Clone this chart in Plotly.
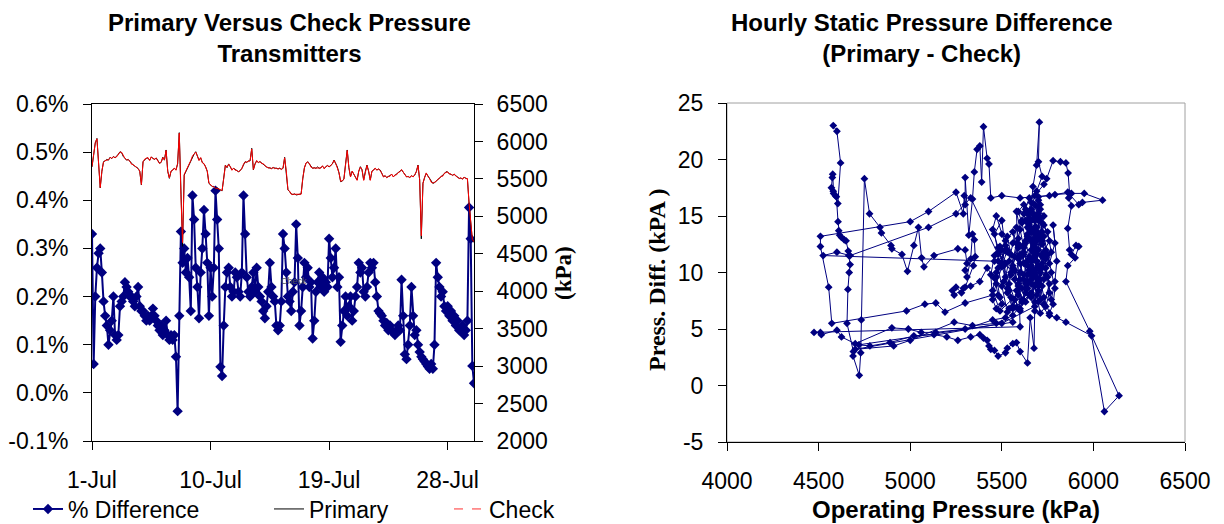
import plotly.graph_objects as go
import pandas as pd

# ---------------- Left chart: 3-hourly samples from 1-Jul 00:00 ----------------
pct_difference = [
    0.33, 0.06, 0.20, 0.26, 0.29, 0.30, 0.25, 0.19,
    0.16, 0.14, 0.10, 0.13, 0.15, 0.20, 0.12, 0.11,
    0.12, 0.18, 0.19, 0.20, 0.23, 0.22, 0.21, 0.20,
    0.20, 0.19, 0.18, 0.20, 0.22, 0.18, 0.17, 0.17,
    0.16, 0.15, 0.16, 0.15, 0.16, 0.175, 0.16, 0.15,
    0.14, 0.13, 0.14, 0.12, 0.13, 0.15, 0.12, 0.11,
    0.12, 0.11, 0.12, 0.075, -0.038, 0.16, 0.335, 0.27,
    0.30, 0.25, 0.28, 0.24, 0.17, 0.41, 0.36, 0.26,
    0.22, 0.155, 0.25, 0.30, 0.38, 0.33, 0.27, 0.16,
    0.26, 0.20, 0.26, 0.42, 0.36, 0.30, 0.054, 0.035,
    0.14, 0.22, 0.25, 0.26, 0.22, 0.20, 0.21, 0.25,
    0.24, 0.21, 0.20, 0.25, 0.41, 0.33, 0.24, 0.21,
    0.20, 0.22, 0.25, 0.21, 0.26, 0.22, 0.20, 0.19,
    0.17, 0.155, 0.18, 0.21, 0.27, 0.22, 0.20, 0.19,
    0.14, 0.13, 0.14, 0.19, 0.33, 0.30, 0.25, 0.20,
    0.19, 0.17, 0.21, 0.23, 0.35, 0.28, 0.14, 0.17,
    0.22, 0.27, 0.24, 0.26, 0.22, 0.23, 0.113, 0.15,
    0.21, 0.23, 0.25, 0.22, 0.24, 0.21, 0.23, 0.22,
    0.32, 0.28, 0.24, 0.26, 0.30, 0.22, 0.24, 0.106,
    0.14, 0.17, 0.20, 0.16, 0.18, 0.20, 0.15, 0.17,
    0.20, 0.22, 0.27, 0.25, 0.26, 0.21, 0.20, 0.22,
    0.25, 0.27, 0.26, 0.27, 0.23, 0.20, 0.17, 0.165,
    0.16, 0.15, 0.14, 0.145, 0.13, 0.14, 0.13, 0.125,
    0.12, 0.13, 0.14, 0.13, 0.235, 0.16, 0.08, 0.07,
    0.10, 0.14, 0.22, 0.16, 0.12, 0.13, 0.10, 0.085,
    0.075, 0.07, 0.065, 0.06, 0.055, 0.05, 0.06, 0.05,
    0.10, 0.27, 0.24, 0.22, 0.20, 0.21, 0.18, 0.17,
    0.18, 0.16, 0.17, 0.15, 0.16, 0.14, 0.15, 0.13,
    0.13, 0.14, 0.12, 0.13, 0.15, 0.385, 0.32, 0.056,
    0.02,
]

primary_kpa = [
    5660, 5850, 5980, 6040, 5700, 5380, 5600, 5730,
    5740, 5760, 5750, 5790, 5770, 5800, 5780, 5800,
    5830, 5863, 5850, 5800, 5780, 5750, 5760, 5730,
    5700, 5685, 5670, 5650, 5640, 5600, 5418, 5730,
    5760, 5775, 5780, 5750, 5790, 5775, 5760, 5780,
    5740, 5710, 5720, 5790, 5750, 5886, 5600, 5507,
    5600, 5620, 5640, 5620, 5700, 6117, 5263, 4600,
    5550, 5600, 5650, 5685, 5750, 5800, 5830, 5863,
    5800, 5750, 5780, 5720, 5700, 5663, 5600, 5440,
    5420, 5396, 5400, 5370, 5380, 5360, 5352, 5340,
    5500, 5685, 5650, 5700, 5660, 5620, 5640, 5620,
    5610, 5596, 5610, 5640, 5690, 5730, 5720, 5740,
    5740, 5908, 5620, 5700, 5740, 5720, 5730, 5710,
    5700, 5680, 5660, 5650, 5645, 5640, 5650, 5640,
    5640, 5635, 5640, 5630, 5640, 5788, 5600, 5352,
    5330, 5300, 5290, 5300, 5285, 5290, 5285, 5300,
    5500, 5650, 5708, 5730, 5700, 5660, 5640, 5650,
    5640, 5660, 5640, 5650, 5670, 5640, 5660, 5680,
    5660, 5680, 5700, 5752, 5700, 5660, 5580, 5463,
    5470, 5500, 5700, 5886, 5650, 5530, 5600, 5560,
    5520, 5485, 5600, 5663, 5620, 5485, 5600, 5685,
    5600, 5485, 5600, 5620, 5640, 5620, 5630, 5619,
    5570, 5530, 5540, 5520, 5530, 5540, 5560, 5530,
    5550, 5560, 5580, 5600, 5620, 5590, 5550, 5530,
    5530, 5520, 5540, 5530, 5550, 5600, 5685, 5485,
    4700, 5440, 5520, 5575, 5540, 5500, 5460, 5440,
    5450, 5470, 5490, 5510, 5530, 5540, 5570, 5596,
    5590, 5570, 5560, 5550, 5560, 5540, 5520, 5507,
    5510, 5500, 5520, 5507, 5500, 5174, 4900, 4684,
    4650,
]

check_kpa = [
    5665, 5845, 5985, 6035, 5705, 5385, 5605, 5725,
    5745, 5755, 5755, 5785, 5775, 5795, 5785, 5795,
    5835, 5858, 5855, 5805, 5775, 5755, 5755, 5735,
    5695, 5690, 5665, 5655, 5635, 5605, 5425, 5725,
    5765, 5770, 5785, 5745, 5795, 5770, 5765, 5775,
    5745, 5705, 5725, 5785, 5755, 5880, 5605, 5512,
    5605, 5615, 5645, 5615, 5705, 6110, 5290, 4650,
    5560, 5605, 5645, 5690, 5745, 5805, 5825, 5858,
    5805, 5745, 5785, 5715, 5705, 5658, 5605, 5445,
    5415, 5401, 5395, 5375, 5375, 5365, 5347, 5345,
    5505, 5680, 5655, 5695, 5665, 5615, 5645, 5615,
    5615, 5591, 5615, 5635, 5695, 5725, 5725, 5735,
    5745, 5900, 5625, 5695, 5745, 5715, 5735, 5705,
    5705, 5675, 5665, 5645, 5650, 5635, 5655, 5635,
    5645, 5630, 5645, 5625, 5645, 5782, 5605, 5357,
    5335, 5295, 5295, 5295, 5290, 5285, 5290, 5295,
    5505, 5645, 5713, 5725, 5705, 5655, 5645, 5645,
    5645, 5655, 5645, 5645, 5675, 5635, 5665, 5675,
    5665, 5675, 5705, 5747, 5705, 5655, 5585, 5468,
    5475, 5495, 5705, 5880, 5655, 5525, 5605, 5555,
    5525, 5480, 5605, 5658, 5625, 5480, 5605, 5680,
    5605, 5480, 5605, 5615, 5645, 5615, 5635, 5614,
    5575, 5525, 5545, 5515, 5535, 5535, 5565, 5525,
    5555, 5555, 5585, 5595, 5625, 5585, 5555, 5525,
    5535, 5515, 5545, 5525, 5555, 5595, 5680, 5490,
    4740, 5445, 5515, 5580, 5535, 5505, 5455, 5445,
    5455, 5465, 5495, 5505, 5535, 5535, 5575, 5591,
    5595, 5565, 5565, 5545, 5565, 5535, 5525, 5502,
    5515, 5495, 5525, 5502, 5505, 5180, 4910, 4690,
    4660,
]

sample_times = pd.date_range("2003-07-01 00:00", periods=len(pct_difference), freq="3h")

date_tick_values = ["2003-07-01", "2003-07-10", "2003-07-19", "2003-07-28"]
date_tick_labels = ["1-Jul", "10-Jul", "19-Jul", "28-Jul"]
pct_tick_values = [-0.1, 0.0, 0.1, 0.2, 0.3, 0.4, 0.5, 0.6]
pct_tick_labels = ["-0.1%", "0.0%", "0.1%", "0.2%", "0.3%", "0.4%", "0.5%", "0.6%"]
kpa_tick_values = [2000, 2500, 3000, 3500, 4000, 4500, 5000, 5500, 6000, 6500]
kpa_tick_labels = ["2000", "2500", "3000", "3500", "4000", "4500", "5000", "5500", "6000", "6500"]

# ---------------- Right chart: hourly operating pressure vs difference ----------------
operating_pressure = [
    4580, 4600, 4620, 4605, 4592, 4580, 4570, 4575, 4577, 4582, 4597, 4606, 4610, 4615,
    4625, 4640, 4650, 4662, 4665, 4672, 4667, 4660, 4655, 4690, 4688, 4722, 4730, 4733,
    4750, 4778, 4835, 4843, 4895, 4900, 4955, 4985, 5020, 5045, 5062, 5075, 5130, 5260,
    5300, 5310, 5300, 5310, 5330, 5340, 5350, 5355, 5345, 5300, 5280, 5250, 5230, 5240,
    5290, 5330, 5380, 5420,
    5460, 5480, 5500, 5470, 5450, 5440, 5460, 5490, 5520, 5510, 5540, 5560, 5530, 5500,
    5480, 5500, 5530, 5550, 5570, 5590, 5610, 5580, 5550, 5520, 5540, 5560, 5580, 5600,
    5620, 5640, 5660, 5680,
    5650, 5680, 5700, 5660, 5720, 5690, 5650, 5610, 5640, 5700, 5730, 5760, 5720, 5680,
    5640, 5600, 5560, 5590, 5630, 5670, 5710, 5690, 5720, 5700, 5705, 5690, 5670, 5660,
    5640,
    5680, 5730, 5745, 5780, 5820, 5850, 5862, 5870, 5865, 5880, 5860, 5870, 5880, 5905,
    5920, 5900, 5860, 5850, 5980, 6140, 6060, 5990, 5850, 5800, 5760,
    5700, 5720, 5700, 5680, 5660, 5640, 5660, 5680, 5700, 5720, 5740, 5760, 5740, 5710,
    5690, 5670, 5650, 5630, 5610, 5590, 5620, 5650,
    5700, 5790, 5880, 5950, 6050, 5940, 5920, 5860, 5760, 5600, 5500, 5440,
    5430, 5420, 5400, 5390, 5380, 5365, 5350, 5340, 5320, 5300, 5300, 5295, 5290, 5250,
    5100, 5000, 4510, 4510, 4555, 4572, 4980, 5080, 5140, 5190, 5300, 5450,
    5470, 5500, 5530, 5480, 5460, 4525, 4600, 4672, 5100, 5250, 5330,
    5480, 5520, 5560, 5590, 5620, 5650, 5600, 5570, 5540, 5510, 5480, 5450, 5470, 5500,
    5530, 5560, 5590, 5610, 5630, 5650, 5670, 5690, 5710, 5730, 5750, 5770, 5790, 5780,
    5760, 5730, 5710, 5690, 5670, 5650, 5630, 5610, 5590, 5570, 5550, 5530, 5560, 5580,
    5600, 5620, 5640, 5660, 5680, 5700, 5720, 5740, 5720, 5700, 5680, 5660, 5640, 5620,
    5600, 5580,
    5600, 4475, 4510, 4515, 4600, 4625, 4700, 4900, 4990, 5060, 5140, 5300, 5450, 5520,
    5560, 4720, 4780, 4890, 5020, 5130, 5200, 5260, 5330, 5380, 5400, 5420, 5430, 5440,
    5460, 5480, 5520, 5530, 5560, 5580, 5600, 5640, 5655, 5676, 5680,
    5500, 4700, 4910, 5000, 5240, 5340, 5470, 5560, 5620, 5700, 5660, 5720, 5680,
    5660, 5690, 5670, 5700, 5680, 5650, 5670, 5700, 5690, 5710, 5730, 5700, 5660, 5640,
    5620, 5650, 5680, 5710, 5730, 5690, 5660, 5640, 5620, 5650, 5680, 5700, 5720, 5740,
    5710, 5680, 5650, 5630, 5660, 5690, 5670, 5640, 5610, 5630, 5660, 5690, 5720, 5700,
    5680, 5660, 5630, 5600, 5620, 5650, 5680, 5710, 5690, 5670, 5700, 5730, 5760, 5740,
    5770, 5750, 5720, 5690, 5660, 5640, 5620, 5590, 5570, 5600, 5580, 5550, 5530, 5500,
    5520, 5470, 5490, 5540, 5570, 5600, 5630,
    5480, 5460, 5500, 5520, 5470, 5450, 5490, 5760, 5790, 5780, 5800, 5790, 5770, 5750,
    5730,
]

press_diff = [
    23.0, 22.5, 19.7, 16.1, 16.8, 17.2, 17.5, 18.4, 18.7, 17.0, 16.7, 14.5, 13.7, 13.3,
    13.1, 12.9, 12.8, 11.9, 11.5, 10.7, 10.0, 8.5, 5.5, 3.0, 2.6, 0.9, 2.9, 5.8,
    18.3, 15.2, 14.0, 13.5, 12.4, 12.1, 11.6, 10.1, 12.4, 14.0, 11.3, 10.5, 11.5, 12.1,
    12.0, 10.8, 10.2, 9.6, 11.2, 13.4, 12.9, 11.4, 10.6, 8.7, 8.2, 8.7, 8.4, 8.0,
    8.6, 8.8, 9.2, 10.4,
    9.5, 8.0, 7.2, 6.8, 7.6, 9.8, 11.5, 12.3, 10.8, 9.2, 8.4, 7.0, 6.5, 8.8,
    10.4, 12.0, 13.2, 11.6, 10.2, 8.8, 7.6, 6.9, 7.8, 9.6, 11.0, 12.6, 14.0, 12.4,
    10.8, 9.2, 7.8, 6.6,
    14.0, 12.5, 13.5, 11.0, 10.5, 9.0, 10.2, 11.5, 13.0, 15.0, 14.2, 12.8, 11.6, 10.0,
    8.6, 9.4, 10.6, 12.2, 12.6, 13.8, 16.0, 17.2, 18.5, 19.8, 23.3, 19.5, 17.6, 15.6,
    14.4,
    16.8, 17.8, 18.3, 19.9, 19.8, 19.7, 18.8, 17.0, 16.6, 15.9, 13.9, 12.0, 11.6, 12.4,
    12.3, 11.3, 10.6, 9.2, 4.8, -0.9, -2.3, 4.4, 5.6, 6.0, 6.2,
    7.4, 8.8, 10.6, 12.2, 13.6, 15.2, 16.2, 14.6, 13.0, 11.4, 9.8, 8.2, 7.0, 6.4,
    8.0, 9.6, 11.2, 12.8, 14.4, 15.4, 16.0, 14.8,
    16.7, 16.9, 17.0, 17.0, 16.4, 16.2, 16.0, 17.1, 16.8, 16.6, 16.8, 16.6,
    19.6, 20.1, 22.9, 18.0, 21.2, 20.9, 18.9, 16.5, 13.3, 18.4, 16.0, 16.8, 15.2, 17.1,
    15.4, 14.5, 13.2, 12.3, 8.7, 5.5, 6.6, 7.2, 7.3, 6.5, 7.3, 8.0,
    9.0, 10.5, 12.0, 11.0, 11.0, 11.5, 11.8, 11.5, 14.0, 15.2, 16.6,
    11.6, 12.8, 13.6, 11.2, 9.4, 8.0, 6.8, 7.6, 9.0, 10.6, 12.2, 13.8, 15.0, 13.4,
    11.8, 10.4, 9.0, 7.4, 8.6, 10.2, 11.8, 13.4, 14.8, 13.2, 11.6, 10.0, 8.6, 7.2,
    6.4, 7.8, 9.4, 11.0, 12.6, 14.2, 15.6, 14.6, 13.0, 11.4, 9.8, 8.2, 6.8, 8.4,
    10.0, 11.6, 13.2, 14.6, 16.0, 15.2, 13.6, 12.0, 10.4, 8.8, 7.4, 9.0, 10.6, 12.2,
    13.8, 15.4,
    5.2, 4.7, 4.7, 4.5, 4.9, 4.3, 3.7, 5.1, 5.0, 4.7, 4.7, 5.0, 5.8, 6.0,
    5.6, 3.6, 3.5, 3.8, 4.4, 4.5, 4.3, 4.0, 4.3, 4.5, 4.2, 4.0, 3.5, 3.2,
    3.1, 2.6, 2.9, 3.3, 3.7, 3.8, 3.0, 2.0, 6.0, 3.3, 7.0,
    5.5, 3.2, 3.5, 4.0, 5.6, 5.3, 5.5, 6.2, 7.5, 9.0, 11.0, 12.5, 14.0,
    12.0, 14.0, 15.2, 16.4, 13.4, 11.4, 9.8, 9.0, 11.6, 13.2, 15.0, 15.8, 14.6, 13.4,
    11.8, 10.0, 8.8, 7.6, 9.4, 10.4, 12.8, 14.0, 15.2, 16.6, 16.0, 14.6, 12.8, 11.2,
    10.0, 11.4, 13.0, 14.6, 15.4, 13.6, 11.2, 9.8, 8.6, 7.4, 8.2, 9.6, 10.8, 12.0,
    13.0, 10.6, 9.0, 10.8, 12.4, 13.8, 15.0, 15.6, 12.8, 10.2, 8.4, 7.2, 9.0, 10.4,
    11.8, 13.6, 14.4, 11.0, 9.4, 11.0, 9.8, 8.0, 9.4, 11.6, 12.6, 10.0, 8.6, 10.8,
    12.4, 9.6, 7.8, 6.8, 7.6, 6.6, 8.2,
    11.8, 13.4, 14.6, 12.0, 10.0, 8.4, 6.6, 10.8, 12.6, 14.2, 11.0, 9.2, 7.6, 9.6,
    11.8,
]

op_tick_values = [4000, 4500, 5000, 5500, 6000, 6500]
op_tick_labels = ["4000", "4500", "5000", "5500", "6000", "6500"]
diff_tick_values = [-5, 0, 5, 10, 15, 20, 25]
diff_tick_labels = ["-5", "0", "5", "10", "15", "20", "25"]

NAVY = "#000080"
SANS = "Liberation Sans, Arial, sans-serif"
SERIF = "Liberation Serif, Times New Roman, serif"
W, H = 1224, 524


def px(x):
    return x / W


def py(y):
    return 1 - y / H


fig = go.Figure()

fig.add_trace(go.Scatter(
    x=sample_times, y=pct_difference, name="% Difference", mode="lines+markers",
    line=dict(color=NAVY, width=2), marker=dict(symbol="diamond", size=8, color=NAVY),
    xaxis="x", yaxis="y", legend="legend",
))
fig.add_trace(go.Scatter(
    x=sample_times, y=primary_kpa, name="Primary", mode="lines",
    line=dict(color="black", width=1), xaxis="x", yaxis="y2", legend="legend2",
))
fig.add_trace(go.Scatter(
    x=sample_times, y=check_kpa, name="Check", mode="lines", showlegend=False,
    line=dict(color="#ff0000", width=1), xaxis="x", yaxis="y2",
))
# legend entry for Check (dashed, as in the legend of the original)
fig.add_trace(go.Scatter(
    x=[None], y=[None], name="Check", mode="lines",
    line=dict(color="#ff3030", width=1, dash="dash"), xaxis="x", yaxis="y2", legend="legend3",
))

fig.add_trace(go.Scatter(
    x=operating_pressure, y=press_diff, mode="lines+markers", showlegend=False,
    line=dict(color=NAVY, width=1), marker=dict(symbol="diamond", size=6, color=NAVY),
    xaxis="x2", yaxis="y3",
))

tickfont = dict(family=SANS, size=23, color="black")
axis_common = dict(showline=True, linecolor="black", linewidth=1, ticks="outside",
                   ticklen=8, tickcolor="black", tickwidth=1, showgrid=False,
                   zeroline=False, tickfont=tickfont, automargin=False, tickmode="array")

legend_common = dict(orientation="h", yanchor="middle", y=py(509), xanchor="left",
                     font=dict(family=SANS, size=23, color="black"),
                     bgcolor="rgba(0,0,0,0)", borderwidth=0, itemwidth=30)

fig.update_layout(
    template="none",
    width=W, height=H, margin=dict(l=0, r=0, t=0, b=0, autoexpand=False),
    paper_bgcolor="white", plot_bgcolor="white",
    xaxis=dict(domain=[px(92), px(474)], anchor="y", type="date",
               range=["2003-07-01", "2003-07-30"], tickvals=date_tick_values,
               ticktext=date_tick_labels, mirror=True, ticklabelstandoff=10, **axis_common),
    yaxis=dict(domain=[py(441), py(104)], anchor="x", range=[-0.1, 0.6],
               tickvals=pct_tick_values, ticktext=pct_tick_labels,
               ticklabelstandoff=10, **axis_common),
    yaxis2=dict(overlaying="y", side="right", anchor="x", range=[2000, 6500],
                tickvals=kpa_tick_values, ticktext=kpa_tick_labels,
                ticklabelstandoff=9, **axis_common),
    xaxis2=dict(domain=[px(727), px(1185)], anchor="y3", range=[4000, 6500],
                tickvals=op_tick_values, ticktext=op_tick_labels,
                ticklabelstandoff=10, **axis_common),
    yaxis3=dict(domain=[py(442), py(103)], anchor="x2", range=[-5, 25],
                tickvals=diff_tick_values, ticktext=diff_tick_labels,
                ticklabelstandoff=10, **axis_common),
    legend=dict(x=px(28), **legend_common),
    legend2=dict(x=px(269), **legend_common),
    legend3=dict(x=px(449), **legend_common),
    shapes=[dict(type="rect", xref="paper", yref="paper", x0=px(727), x1=px(1185),
                 y0=py(442), y1=py(103), line=dict(color="#a0a0a0", width=1),
                 layer="below")],
)

title_font = dict(family=SANS, size=24, color="black")
fig.add_annotation(text="<b>Primary Versus Check Pressure<br>Transmitters</b>",
                   x=px(289), y=py(38), xref="paper", yref="paper", showarrow=False,
                   xanchor="center", yanchor="middle", font=title_font)
fig.add_annotation(text="<b>Hourly Static Pressure Difference<br>(Primary - Check)</b>",
                   x=px(921), y=py(38), xref="paper", yref="paper", showarrow=False,
                   xanchor="center", yanchor="middle", font=title_font)
fig.add_annotation(text="<b>(kPa)</b>", x=px(563), y=py(273), xref="paper", yref="paper",
                   showarrow=False, textangle=-90, xanchor="center", yanchor="middle",
                   font=dict(family=SERIF, size=23, color="black"))
fig.add_annotation(text="<b>Press. Diff. (kPA )</b>", x=px(657), y=py(280), xref="paper",
                   yref="paper", showarrow=False, textangle=-90, xanchor="center",
                   yanchor="middle", font=dict(family=SERIF, size=24, color="black"))
fig.add_annotation(text="<b>Operating Pressure (kPa)</b>", x=px(956), y=py(509),
                   xref="paper", yref="paper", showarrow=False, xanchor="center",
                   yanchor="middle", font=dict(family=SANS, size=24, color="black"))
fig.add_annotation(text="Check", x=px(294), y=py(281), xref="paper", yref="paper",
                   showarrow=False, xanchor="center", yanchor="middle",
                   font=dict(family=SANS, size=9, color="#555555"))

fig.write_html("out.html")
